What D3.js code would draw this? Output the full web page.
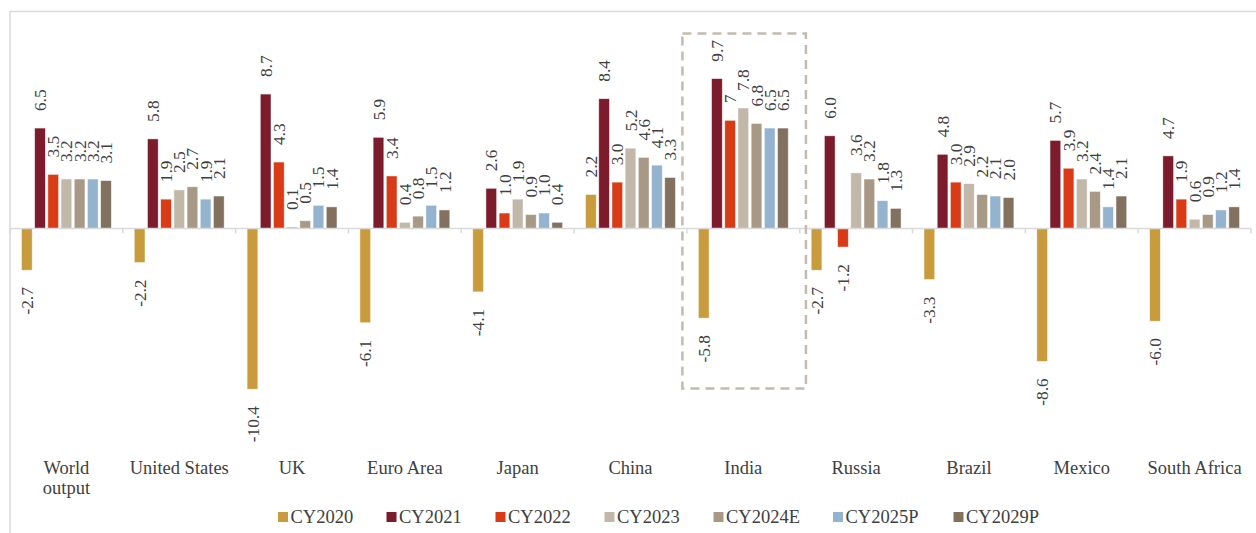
<!DOCTYPE html>
<html>
<head>
<meta charset="utf-8">
<script src="https://cdn.jsdelivr.net/npm/d3@7/dist/d3.min.js"></script>
<style>
  html, body { margin: 0; padding: 0; background: #fff; }
  svg { display: block; }
  text { font-family: "Liberation Serif", "Times New Roman", serif; }
</style>
</head>
<body>
<svg id="chart" width="1256" height="533"></svg>
<script>
// ---- Data ----
const categories = ["World output", "United States", "UK", "Euro Area", "Japan", "China",
                    "India", "Russia", "Brazil", "Mexico", "South Africa"];
const seriesNames = ["CY2020", "CY2021", "CY2022", "CY2023", "CY2024E", "CY2025P", "CY2029P"];
const seriesColors = ["#C89B3C", "#7B1B2B", "#D83B16", "#C1B8AA", "#A89886", "#93B3CE", "#837160"];

// values kept as label strings so the published formatting ("7" vs "6.0") is preserved
const cy2020  = ["-2.7", "-2.2", "-10.4", "-6.1", "-4.1", "2.2", "-5.8", "-2.7", "-3.3", "-8.6", "-6.0"];
const cy2021  = ["6.5", "5.8", "8.7", "5.9", "2.6", "8.4", "9.7", "6.0", "4.8", "5.7", "4.7"];
const cy2022  = ["3.5", "1.9", "4.3", "3.4", "1.0", "3.0", "7", "-1.2", "3.0", "3.9", "1.9"];
const cy2023  = ["3.2", "2.5", "0.1", "0.4", "1.9", "5.2", "7.8", "3.6", "2.9", "3.2", "0.6"];
const cy2024e = ["3.2", "2.7", "0.5", "0.8", "0.9", "4.6", "6.8", "3.2", "2.2", "2.4", "0.9"];
const cy2025p = ["3.2", "1.9", "1.5", "1.5", "1.0", "4.1", "6.5", "1.8", "2.1", "1.4", "1.2"];
const cy2029p = ["3.1", "2.1", "1.4", "1.2", "0.4", "3.3", "6.5", "1.3", "2.0", "2.1", "1.4"];
const highlighted = "India";

const seriesData = [cy2020, cy2021, cy2022, cy2023, cy2024e, cy2025p, cy2029p];

// ---- Layout ----
const FONT = '"Liberation Serif", "Times New Roman", serif';
const svg = d3.select("#chart");
const plotLeft = 10, plotRight = 1251;

const x0 = d3.scaleBand().domain(categories).range([plotLeft, plotRight]).paddingInner(0).paddingOuter(0);
const x1 = d3.scaleBand().domain(seriesNames).range([0, x0.bandwidth()]).paddingInner(0.19).paddingOuter(0.87);
// y: 0 at 228.5px, ~15.45 px per unit
const y = d3.scaleLinear().domain([-10.4, 9.7]).range([228.5 + 10.4 * 15.45, 228.5 - 9.7 * 15.45]);

// outer chart frame
svg.append("rect")
  .attr("x", 10).attr("y", 11.5).attr("width", 1300).attr("height", 600)
  .attr("fill", "none").attr("stroke", "#D9D9D9").attr("stroke-width", 1.5);

// bars
const groups = svg.append("g").selectAll("g")
  .data(categories)
  .join("g")
  .attr("transform", d => `translate(${x0(d)},0)`);

const cells = groups.selectAll("g.cell")
  .data((c, ci) => seriesNames.map((s, si) => ({ cat: c, series: s, si, label: seriesData[si][ci], value: +seriesData[si][ci] })))
  .join("g").attr("class", "cell");

cells.append("rect")
  .attr("x", d => x1(d.series))
  .attr("width", x1.bandwidth())
  .attr("y", d => Math.min(y(d.value), y(0)))
  .attr("height", d => Math.abs(y(d.value) - y(0)))
  .attr("fill", d => seriesColors[d.si])
  .attr("stroke", "rgba(255,255,255,0.6)")
  .attr("stroke-width", 0.75);

// axis line with category-boundary ticks
const axisG = svg.append("g").attr("transform", `translate(0,${y(0)})`);
axisG.append("line")
  .attr("x1", plotLeft).attr("x2", plotRight)
  .attr("stroke", "#D9D9D9").attr("stroke-width", 1.5);
const boundaries = categories.map(c => x0(c)).concat([plotRight]);
axisG.selectAll("line.tick")
  .data(boundaries)
  .join("line").attr("class", "tick")
  .attr("x1", d => d).attr("x2", d => d)
  .attr("y1", 0).attr("y2", 5)
  .attr("stroke", "#D9D9D9").attr("stroke-width", 1.5);

// data labels (rotated)
const gap = 17;
cells.append("text")
  .attr("transform", d => {
    const cx = x1(d.series) + x1.bandwidth() / 2;
    const yy = d.value >= 0 ? y(d.value) - gap : y(d.value) + gap;
    return `translate(${cx},${yy}) rotate(-90)`;
  })
  .attr("dy", "0.35em")
  .attr("text-anchor", d => d.value >= 0 ? "start" : "end")
  .attr("font-family", FONT)
  .attr("font-size", "17.3px")
  .attr("fill", "#404040")
  .text(d => d.label);

// category labels
const catLabels = svg.append("g").selectAll("text")
  .data(categories)
  .join("text")
  .attr("x", d => x0(d) + x0.bandwidth() / 2)
  .attr("y", 474)
  .attr("text-anchor", "middle")
  .attr("font-family", FONT)
  .attr("font-size", "18.5px")
  .attr("fill", "#404040");
catLabels.each(function (d) {
  const t = d3.select(this);
  const parts = d === "World output" ? ["World", "output"] : [d];
  parts.forEach((p, i) => {
    t.append("tspan")
      .attr("x", x0(d) + x0.bandwidth() / 2)
      .attr("dy", i === 0 ? 0 : 20)
      .text(p);
  });
});

// highlight box around India
const hx = x0(highlighted);
svg.append("rect")
  .attr("x", hx - 4.5).attr("y", 33.5)
  .attr("width", 123.5).attr("height", 355)
  .attr("fill", "none")
  .attr("stroke", "#C4BBAE").attr("stroke-width", 2.5)
  .attr("stroke-dasharray", "9,6");

// legend
const legendX = [278, 386.5, 495.5, 604.5, 713.5, 833, 953.5];
const legend = svg.append("g").selectAll("g")
  .data(seriesNames)
  .join("g")
  .attr("transform", (d, i) => `translate(${legendX[i]},0)`);
legend.append("rect")
  .attr("x", 0).attr("y", 512).attr("width", 10).attr("height", 10)
  .attr("fill", (d, i) => seriesColors[i]);
legend.append("text")
  .attr("x", 12.5).attr("y", 523)
  .attr("font-family", FONT)
  .attr("font-size", "18.5px")
  .attr("fill", "#404040")
  .text(d => d);
</script>
</body>
</html>
